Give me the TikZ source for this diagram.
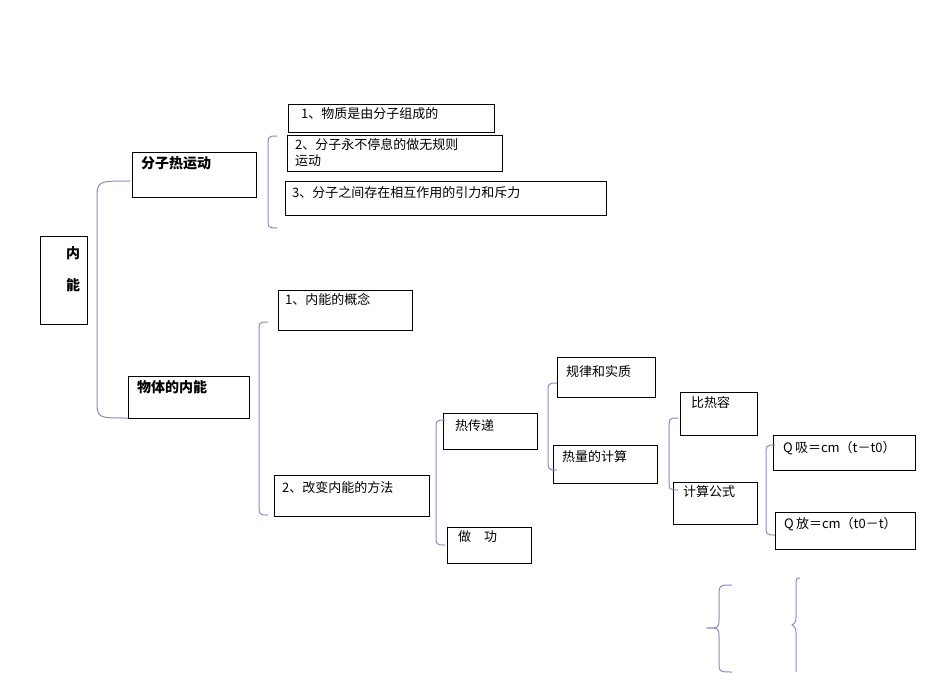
\documentclass[tikz,border=0pt]{standalone}
\usepackage{fontspec}
\setmainfont{Liberation Sans}
\newfontfamily\cjk{Noto Sans CJK SC}
\begin{document}
\begin{tikzpicture}[x=1pt,y=-1pt,
  bx/.style={draw,line width=0.7pt},
  tx/.style={anchor=north west,inner sep=0pt,font=\cjk\fontsize{13}{15}\selectfont},
  bt/.style={anchor=north west,inner sep=0pt,font=\cjk\bfseries\fontsize{14}{16}\selectfont},
  br/.style={draw=blue!30!gray!70,line width=1pt}]
\useasboundingbox (0,0) rectangle (950,672);
\newcommand\brk[3]{\draw[br] (#1+9,#2) .. controls (#1,#2) .. (#1,#2+12) -- (#1,#3-12) .. controls (#1,#3) .. (#1+9,#3);}
% boxes
\draw[bx] (40,236) rectangle (87,324);
\node[bt] (nn1) at (66,246) {内};
\node[bt] (nn2) at (66,278) {能};
\draw[bx] (132,152) rectangle (256,197); \node[bt] (a) at (141,156) {分子热运动};
\draw[bx] (128,376) rectangle (249,418); \node[bt] (b) at (137,380) {物体的内能};
\draw[bx] (288,104) rectangle (494,132); \node[tx] (a1) at (301,107) {1、物质是由分子组成的};
\draw[bx] (287,135) rectangle (502,171);
\begin{scope}\clip (287,135) rectangle (502,171);
\node[tx,align=left] (a2) at (295,138) {2、分子永不停息的做无规则\\[1pt]运动};
\end{scope}
\draw[bx] (285,181) rectangle (606,215); \node[tx] (a3) at (292,186) {3、分子之间存在相互作用的引力和斥力};
\draw[bx] (278,290) rectangle (412,330); \node[tx] (b1) at (285,293) {1、内能的概念};
\draw[bx] (274,475) rectangle (429,516); \node[tx] (b2) at (282,481) {2、改变内能的方法};
\draw[bx] (443,413) rectangle (537,449); \node[tx] (c1) at (455,419) {热传递};
\draw[bx] (447,527) rectangle (531,563); \node[tx] (c2) at (458,530) {做\quad 功};
\draw[bx] (557,357) rectangle (655,397); \node[tx] (d1) at (566,365) {规律和实质};
\draw[bx] (553,445) rectangle (657,483); \node[tx] (d2) at (562,450) {热量的计算};
\draw[bx] (680,392) rectangle (757,435); \node[tx] (e1) at (691,396) {比热容};
\draw[bx] (673,482) rectangle (757,524); \node[tx] (e2) at (683,485) {计算公式};
\draw[bx] (773,435) rectangle (915,470); \node[tx] (f1) at (783,441) {Q\,{\cjk 吸}＝cm（t－t0）};
\draw[bx] (775,512) rectangle (915,549); \node[tx] (f2) at (784,517) {Q\,{\cjk 放}＝cm（t0－t）};
% brackets
\draw[br] (130,181) .. controls (97,181) .. (97,200) -- (97,400) .. controls (97,418) .. (128,418);
\brk{268}{136}{228}
\brk{259}{322}{515}
\brk{436}{420}{545}
\brk{548}{383}{470}
\brk{669}{418}{490}
\brk{766}{445}{535}
% curly braces
\draw[br] (732,585) .. controls (719,585) .. (719,598) -- (719,618) .. controls (719,628) .. (706,628) .. controls (719,628) .. (719,638) -- (719,660) .. controls (719,672) .. (732,672);
\draw[br] (800,578) .. controls (796,578) .. (796,590) -- (796,615) .. controls (796,622) .. (792,625) .. controls (796,628) .. (796,635) -- (796,672);
\end{tikzpicture}
\end{document}
